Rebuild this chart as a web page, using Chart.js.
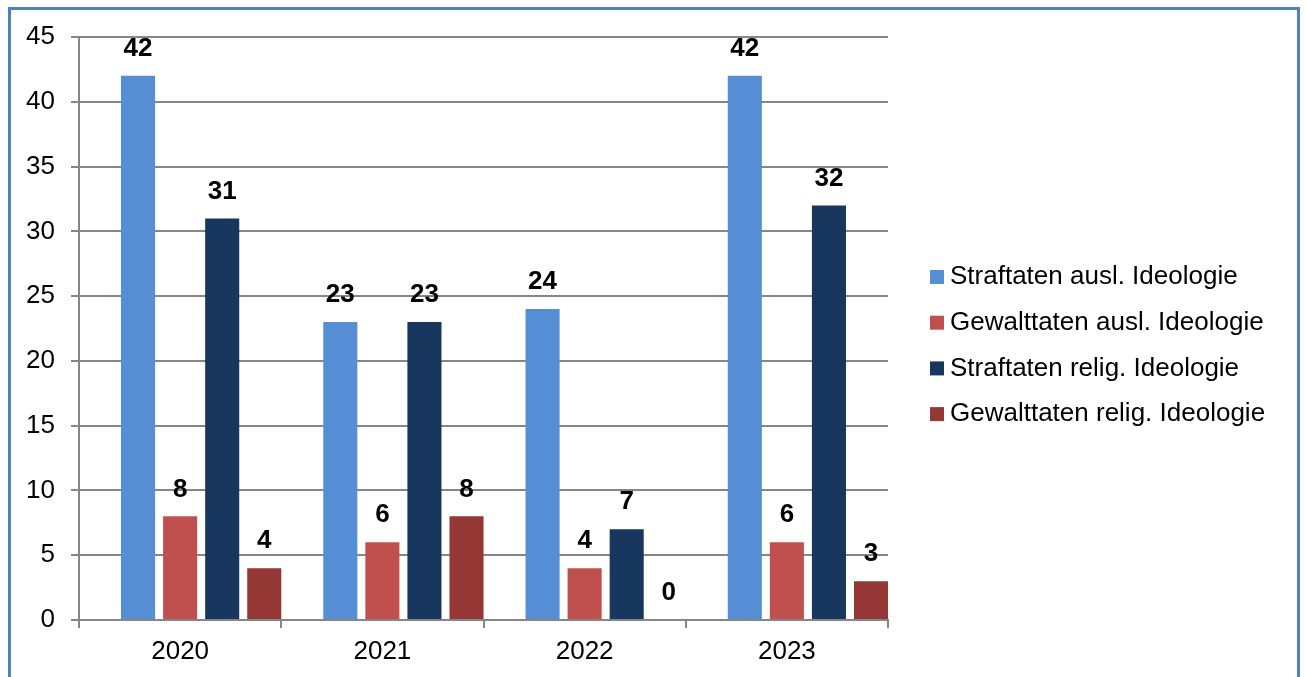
<!DOCTYPE html>
<html>
<head>
<meta charset="utf-8">
<script src="https://cdn.jsdelivr.net/npm/chart.js@4"></script>
<style>
    body { margin: 0; background: #fff; }
    #frame {
        position: absolute; left: 8px; top: 7px; width: 1292px; height: 720px;
        border: 3px solid #4f81bd; box-sizing: border-box;
    }
    #chart { position: absolute; left: 0; top: 0; }
</style>
</head>
<body>
<div id="frame"></div>
<canvas id="chart" width="1306" height="677"></canvas>
<script>
// Values
const years = ['2020', '2021', '2022', '2023'];
const straftatenAusl = [42, 23, 24, 42];
const gewalttatenAusl = [8, 6, 4, 6];
const straftatenRelig = [31, 23, 7, 32];
const gewalttatenRelig = [4, 8, 0, 3];
const seriesNames = [
    'Straftaten ausl. Ideologie',
    'Gewalttaten ausl. Ideologie',
    'Straftaten relig. Ideologie',
    'Gewalttaten relig. Ideologie'
];
const seriesColors = ['#558ed5', '#c0504d', '#17375e', '#953735'];
const yMax = 45;
const yStep = 5;

const FONT = "'Liberation Sans', Arial, sans-serif";
const gridColor = '#868686';

// empty first slot: in the original the bar groups sit right of the category centre
const datasets = [{ label: '', data: years.map(() => null), spacer: true }];
[straftatenAusl, gewalttatenAusl, straftatenRelig, gewalttatenRelig].forEach((values, i) => {
    datasets.push({
        label: seriesNames[i],
        data: values,
        backgroundColor: seriesColors[i]
    });
});

// value labels above the bars
const valueLabels = {
    id: 'valueLabels',
    afterDatasetsDraw(chart) {
        const ctx = chart.ctx;
        ctx.save();
        ctx.font = 'bold 26px ' + FONT;
        ctx.fillStyle = '#000';
        ctx.textAlign = 'center';
        ctx.textBaseline = 'middle';
        chart.data.datasets.forEach((ds, di) => {
            if (ds.spacer) return;
            chart.getDatasetMeta(di).data.forEach((bar, i) => {
                ctx.fillText(String(ds.data[i]), bar.x, bar.y - 27);
            });
        });
        ctx.restore();
    }
};

// legend on the right, drawn by hand for exact placement
const sideLegend = {
    id: 'sideLegend',
    afterDraw(chart) {
        const ctx = chart.ctx;
        ctx.save();
        ctx.font = '26px ' + FONT;
        ctx.textBaseline = 'middle';
        let y = 277;
        chart.data.datasets.forEach(ds => {
            if (ds.spacer) return;
            ctx.fillStyle = ds.backgroundColor;
            ctx.fillRect(930, y - 7, 14, 14);
            ctx.fillStyle = '#000';
            ctx.fillText(ds.label, 950, y);
            y += 45.7;
        });
        ctx.restore();
    }
};

new Chart(document.getElementById('chart'), {
    type: 'bar',
    data: { labels: years, datasets: datasets },
    plugins: [valueLabels, sideLegend],
    options: {
        responsive: false,
        animation: false,
        layout: { padding: { left: 0, top: 37, right: 418, bottom: 0 } },
        datasets: {
            bar: { categoryPercentage: 1.04, barPercentage: 0.81 }
        },
        plugins: {
            legend: { display: false },
            tooltip: { enabled: false }
        },
        scales: {
            x: {
                grid: {
                    drawOnChartArea: false,
                    offset: true,
                    tickLength: 8,
                    color: gridColor,
                    lineWidth: 2
                },
                border: { color: gridColor, width: 2 },
                ticks: { color: '#000', font: { family: FONT, size: 26 }, padding: 8 },
                afterFit(scale) { scale.height = 57; }
            },
            y: {
                min: 0,
                max: yMax,
                ticks: { stepSize: yStep, color: '#000', font: { family: FONT, size: 26 }, padding: 16 },
                grid: { color: gridColor, lineWidth: 2, tickLength: 8 },
                border: { color: gridColor, width: 2 },
                afterFit(scale) { scale.width = 79; }
            }
        }
    }
});
</script>
</body>
</html>
